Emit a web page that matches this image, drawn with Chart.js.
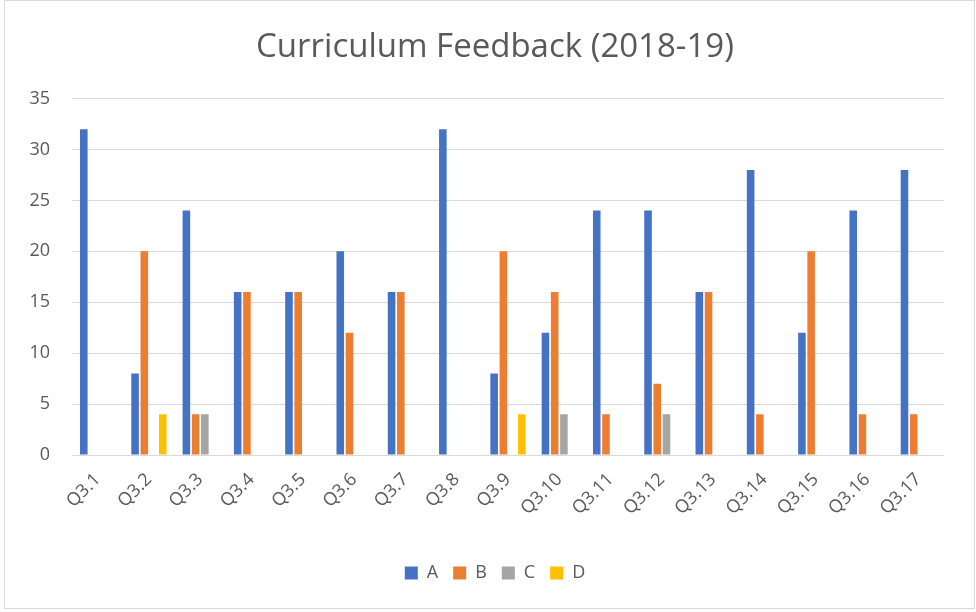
<!DOCTYPE html>
<html>
<head>
<meta charset="utf-8">
<script src="https://cdn.jsdelivr.net/npm/chart.js@4"></script>
<style>
  body { margin: 0; background: #fff; }
  #wrap { position: absolute; left: 0; top: 0; width: 976px; height: 612px; }
</style>
</head>
<body>
<div id="wrap"><canvas id="myChart" width="976" height="612"></canvas></div>
<script>
const categories = ['Q3.1','Q3.2','Q3.3','Q3.4','Q3.5','Q3.6','Q3.7','Q3.8','Q3.9',
  'Q3.10','Q3.11','Q3.12','Q3.13','Q3.14','Q3.15','Q3.16','Q3.17'];
const seriesA = [32, 8, 24, 16, 16, 20, 16, 32, 8, 12, 24, 24, 16, 28, 12, 24, 28];
const seriesB = [0, 20, 4, 16, 16, 12, 16, 0, 20, 16, 4, 7, 16, 4, 20, 4, 4];
const seriesC = [0, 0, 4, 0, 0, 0, 0, 0, 0, 4, 0, 4, 0, 0, 0, 0, 0];
const seriesD = [0, 4, 0, 0, 0, 0, 0, 0, 4, 0, 0, 0, 0, 0, 0, 0, 0];
const seriesNames = ['A', 'B', 'C', 'D'];
const colors = ['#4472C4', '#ED7D31', '#A5A5A5', '#FFC000'];

const textColor = '#595959';
const fontFam = '"Open Sans", sans-serif';

// outer frame like the office chart border
const frame = {
    id: 'frame',
    beforeDraw(chart) {
        const c = chart.ctx;
        c.save();
        c.fillStyle = '#fff';
        c.fillRect(0, 0, chart.width, chart.height);
        c.strokeStyle = '#d9d9d9';
        c.lineWidth = 1;
        c.strokeRect(4.5, 0.5, chart.width - 6, chart.height - 4);
        c.restore();
    }
};

const ctx = document.getElementById('myChart');
new Chart(ctx, {
    type: 'bar',
    data: {
        labels: categories,
        datasets: [seriesA, seriesB, seriesC, seriesD].map((d, i) => ({
            label: seriesNames[i],
            data: d,
            backgroundColor: colors[i],
            categoryPercentage: 0.72,
            barPercentage: 0.82
        }))
    },
    options: {
        responsive: false,
        animation: false,
        layout: { padding: { left: 14, right: 0, top: 0, bottom: 20 } },
        plugins: {
            title: {
                display: true,
                text: 'Curriculum Feedback (2018-19)',
                color: textColor,
                font: { family: fontFam, size: 33, weight: 'normal' },
                padding: { top: 28, bottom: 31 }
            },
            legend: {
                position: 'bottom',
                labels: {
                    color: textColor,
                    font: { family: fontFam, size: 18 },
                    boxWidth: 13,
                    boxHeight: 13,
                    padding: 15
                }
            },
            tooltip: { enabled: false }
        },
        scales: {
            x: {
                grid: { display: false },
                border: { display: false },
                ticks: {
                    color: textColor,
                    font: { family: fontFam, size: 18 },
                    minRotation: 45,
                    maxRotation: 45,
                    padding: 6
                },
                afterFit(scale) { scale.height = 94; }
            },
            y: {
                min: 0,
                max: 35,
                grid: { color: '#d9d9d9', lineWidth: 1, drawTicks: false },
                border: { display: false },
                ticks: {
                    stepSize: 5,
                    color: textColor,
                    font: { family: fontFam, size: 18 },
                    padding: 22
                },
                afterFit(scale) { scale.width = 58; }
            },
            // empty right axis, only reserves the right margin
            yRight: {
                position: 'right',
                grid: { display: false },
                border: { display: false },
                ticks: { display: false },
                afterFit(scale) { scale.width = 32; }
            }
        }
    },
    plugins: [frame]
});
</script>
</body>
</html>
